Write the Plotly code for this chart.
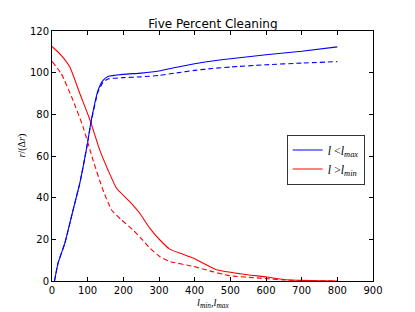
import plotly.graph_objects as go

# l < l_max (blue)
blue_x = [7, 17, 36, 59, 78, 96, 110, 129, 143, 157, 200, 250, 300, 350, 400, 450, 500, 600, 700, 800]
blue_solid = [0, 8.6, 18.2, 34, 47, 62.8, 77, 91.5, 96.3, 98.2, 99.2, 99.8, 100.8, 102.6, 104.3, 105.6, 106.7, 108.6, 110.3, 112.4]
blue_dashed = [0, 8.6, 18.2, 34, 47, 62.8, 76.5, 90.8, 95.3, 97.0, 97.6, 98.0, 98.7, 99.9, 101.1, 102.0, 102.7, 103.8, 104.6, 105.3]

# l > l_min (red)
red_x = [0, 10, 26, 50, 78, 106, 134, 157, 181, 218, 246, 274, 302, 330, 365, 396, 430, 461, 527, 602, 658, 700, 750, 800]
red_solid = [112.6, 111, 108.3, 102.7, 90, 77.5, 62.8, 53.3, 44.5, 38.1, 32.5, 25.4, 19.8, 15.3, 13, 11, 8, 5.4, 3.5, 1.9, 0.6, 0.3, 0.1, 0]
red_dx = [0, 26, 59, 87, 115, 143, 167, 195, 227, 255, 274, 302, 330, 396, 450, 498, 582, 650, 700, 800]
red_dashed = [105.4, 99.5, 86.7, 74, 58, 43.7, 34.1, 29.3, 24.5, 19.5, 15.8, 11.8, 9.4, 7, 4.5, 2.5, 1.4, 0.5, 0.2, 0]

x_ticks = [0, 100, 200, 300, 400, 500, 600, 700, 800, 900]
y_ticks = [0, 20, 40, 60, 80, 100, 120]

fig = go.Figure()
fig.add_trace(go.Scatter(x=blue_x, y=blue_solid, mode="lines", line=dict(color="#0000ff", width=1.1, shape="spline", smoothing=0.5),
                         name="<i>l</i> &lt;<i>l</i><sub><i>max</i></sub>"))
fig.add_trace(go.Scatter(x=red_x, y=red_solid, mode="lines", line=dict(color="#ff0000", width=1.1, shape="spline", smoothing=0.5),
                         name="<i>l</i> &gt;<i>l</i><sub><i>min</i></sub>"))
fig.add_trace(go.Scatter(x=blue_x, y=blue_dashed, mode="lines", line=dict(color="#0000ff", width=1.1, dash="5px,3px", shape="spline", smoothing=0.5),
                         showlegend=False))
fig.add_trace(go.Scatter(x=red_dx, y=red_dashed, mode="lines", line=dict(color="#ff0000", width=1.1, dash="5px,3px", shape="spline", smoothing=0.5),
                         showlegend=False))

axis_common = dict(showgrid=False, zeroline=False, showline=True, linecolor="black", linewidth=1,
                   ticks="inside", ticklen=4, tickcolor="black", mirror="allticks", automargin=False,
                   tickfont=dict(family="DejaVu Sans", size=10, color="black"))

fig.update_layout(
    width=415, height=312,
    margin=dict(l=52, r=42, t=31, b=31, autoexpand=False),
    paper_bgcolor="white", plot_bgcolor="white",
    title=dict(text="Five Percent Cleaning", x=0.513, xanchor="center", y=0.925, yanchor="middle",
               font=dict(family="DejaVu Sans", size=12, color="black")),
    xaxis=dict(range=[0, 900], tickvals=x_ticks, **axis_common),
    yaxis=dict(range=[0, 120], tickvals=y_ticks, **axis_common),
    legend=dict(x=0.731, y=0.586, xanchor="left", yanchor="top", bgcolor="white",
                bordercolor="#333", borderwidth=1,
                font=dict(family="Liberation Serif", size=12, color="black"),
                itemwidth=30, tracegroupgap=0),
    showlegend=True,
)
fig.add_annotation(text="<i>l</i><sub><i>min</i></sub>,<i>l</i><sub><i>max</i></sub>", xref="paper", yref="paper",
                   x=0.5, y=-0.09, yanchor="middle", showarrow=False,
                   font=dict(family="Liberation Serif", size=10.5, color="black"))
fig.add_annotation(text="<i>r</i>/(Δ<i>r</i>)", xref="paper", yref="paper",
                   x=-0.093, y=0.543, xanchor="center", yanchor="middle", textangle=-90, showarrow=False,
                   font=dict(family="Liberation Serif", size=10, color="black"))

fig.write_html("out.html", config={"displayModeBar": False},
               post_script="document.body.style.margin='0';document.body.style.padding='0';")
